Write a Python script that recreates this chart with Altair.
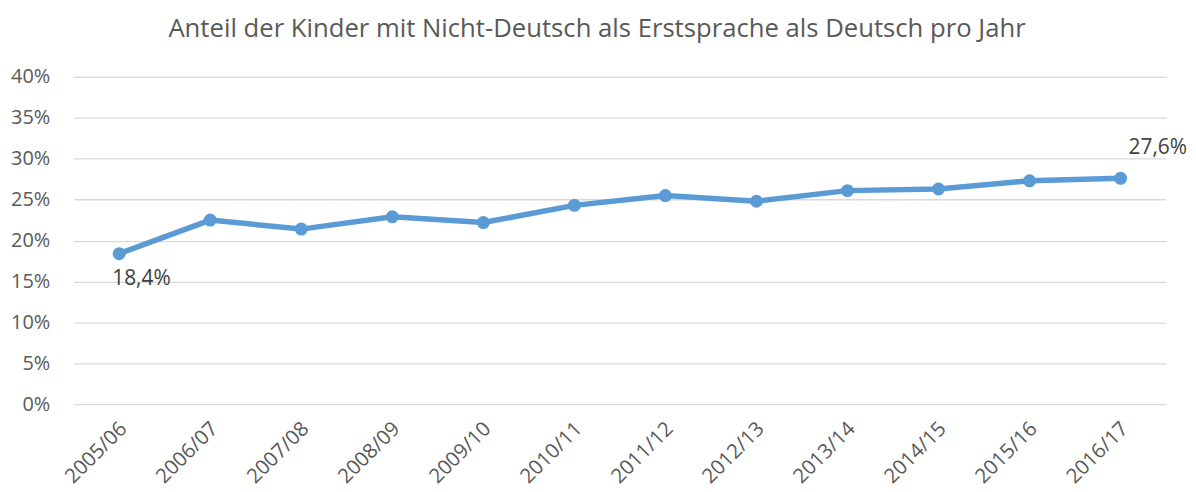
import altair as alt
import pandas as pd

years = ["2005/06", "2006/07", "2007/08", "2008/09", "2009/10", "2010/11",
         "2011/12", "2012/13", "2013/14", "2014/15", "2015/16", "2016/17"]
shares = [0.184, 0.225, 0.214, 0.229, 0.222, 0.243,
          0.255, 0.248, 0.261, 0.263, 0.273, 0.276]
first_label = "18,4%"
last_label = "27,6%"
title_text = "Anteil der Kinder mit Nicht-Deutsch als Erstsprache als Deutsch pro Jahr"

FONT = "Open Sans"
GREY = "#595959"
BLUE = "#5b9bd5"

df = pd.DataFrame({"Jahr": years, "Anteil": shares})
first_df = pd.DataFrame({"Jahr": [years[0]], "Anteil": [shares[0]], "Label": [first_label]})
last_df = pd.DataFrame({"Jahr": [years[-1]], "Anteil": [shares[-1]], "Label": [last_label]})
title_df = pd.DataFrame({"Titel": [title_text]})

x_enc = alt.X("Jahr:N", sort=years,
              scale=alt.Scale(type="point", padding=0.5),
              axis=alt.Axis(title=None, labelAngle=-45, labelFontSize=20.5, labelColor=GREY,
                            labelFont=FONT, ticks=False, domain=False, grid=False,
                            labelPadding=14, labelOffset=-3))
y_enc = alt.Y("Anteil:Q",
              scale=alt.Scale(domain=[0, 0.4], nice=False, zero=True),
              axis=alt.Axis(title=None, format=".0%", values=[0, 0.05, 0.1, 0.15, 0.2, 0.25, 0.3, 0.35, 0.4],
                            labelFontSize=20, labelColor=GREY, labelFont=FONT,
                            ticks=False, domain=False, labelPadding=24,
                            gridColor="#d9d9d9", gridWidth=1.3))

base = alt.Chart(df).encode(x=x_enc, y=y_enc)
line = base.mark_line(color=BLUE, strokeWidth=5.5)
pts = base.mark_point(filled=True, color=BLUE, size=170, opacity=1)

lab1 = alt.Chart(first_df).mark_text(align="left", baseline="alphabetic", dx=-7, dy=32,
                                     fontSize=21, font=FONT, color="#404040").encode(
    x=alt.X("Jahr:N", sort=years), y="Anteil:Q", text="Label:N")
lab2 = alt.Chart(last_df).mark_text(align="left", baseline="alphabetic", dx=8, dy=-24,
                                    fontSize=21, font=FONT, color="#404040").encode(
    x=alt.X("Jahr:N", sort=years), y="Anteil:Q", text="Label:N")

title = alt.Chart(title_df).mark_text(align="center", baseline="alphabetic", fontSize=25.8,
                                      font=FONT, color=GREY).encode(
    x=alt.value(526), y=alt.value(-40), text="Titel:N")

chart = alt.layer(line, pts, lab1, lab2, title).properties(
    width=1098, height=329,
    autosize=alt.AutoSizeParams(type="none"),
    padding={"left": 66, "top": 68, "right": 22, "bottom": 87},
    background="white",
).configure_view(stroke=None)

chart.save("out.html", embed_options={"renderer": "svg", "actions": False})
